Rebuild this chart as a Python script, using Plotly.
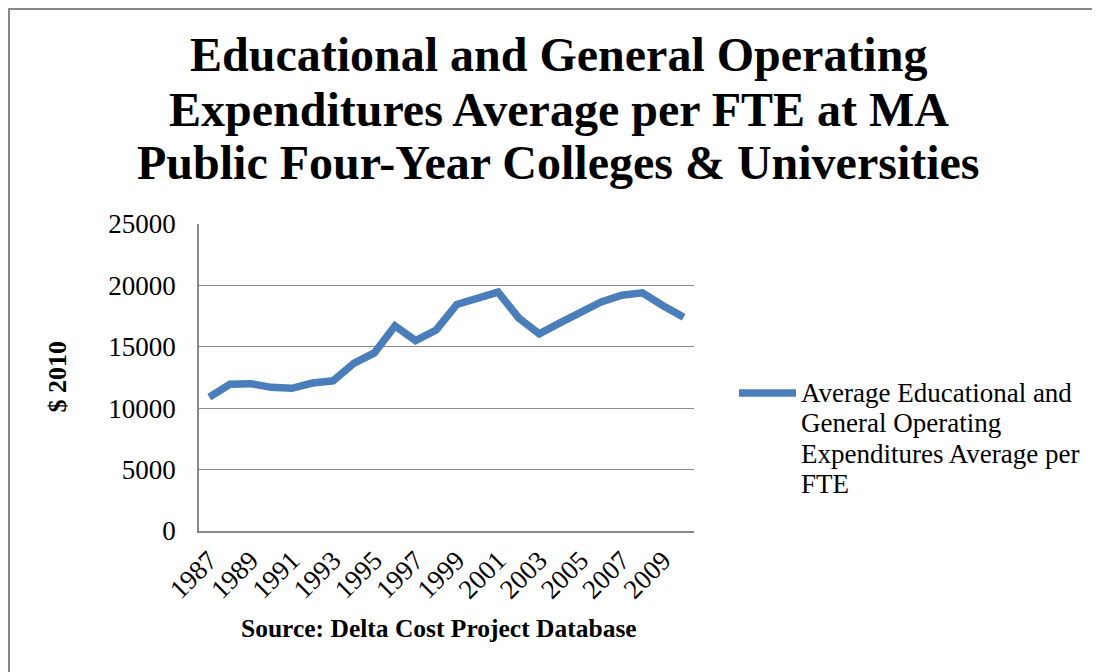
import plotly.graph_objects as go

years = [str(y) for y in range(1987, 2011)]
values = [10900, 11950, 12000, 11700, 11620, 12050, 12230, 13650, 14500, 16700,
          15500, 16370, 18450, 18950, 19450, 17350, 16050, 16950, 17850, 18650,
          19200, 19400, 18350, 17400]
tick_years = [str(y) for y in range(1987, 2010, 2)]
y_ticks = [0, 5000, 10000, 15000, 20000, 25000]

series_name = "Average Educational and General Operating Expenditures Average per FTE"
title_lines = ["Educational and General Operating",
               "Expenditures Average per FTE at MA",
               "Public Four-Year Colleges &amp; Universities"]
legend_lines = ["Average Educational and", "General Operating",
                "Expenditures Average per", "FTE"]
BLUE = "#4A7EBB"
SERIF = "Liberation Serif, Times New Roman, serif"

# page is offset by the 8px body margin; work in page (reference) coordinates
OFF = 8
W, H = 1100 - OFF, 672 - OFF
L, R, T, B = 199, 694, 224, 531


def px(x):
    return (x - L) / (R - L)


def py(y):
    return (B - y) / (B - T)


fig = go.Figure()
fig.add_trace(go.Scatter(
    x=years, y=values, mode="lines", name=series_name,
    line=dict(color=BLUE, width=7.5), showlegend=False,
))

fig.update_layout(
    width=W, height=H,
    margin=dict(l=L - OFF, r=1100 - R, t=T - OFF, b=672 - B, pad=0),
    paper_bgcolor="white", plot_bgcolor="white",
    font=dict(family=SERIF, color="black"),
    xaxis=dict(type="category", range=[-0.5, len(years) - 0.5],
               tickmode="array", tickvals=tick_years, ticktext=tick_years,
               tickangle=-45, tickfont=dict(size=27, family=SERIF),
               ticklabelstandoff=1,
               showgrid=False, showline=True, linecolor="#888", linewidth=1.5,
               ticks="", zeroline=False),
    yaxis=dict(range=[0, 25000], tickmode="array", tickvals=y_ticks,
               ticktext=[str(v) for v in y_ticks],
               tickfont=dict(size=27, family=SERIF), ticklabelstandoff=16,
               showgrid=True, gridcolor="#8c8c8c", gridwidth=1.2,
               showline=True, linecolor="#888", linewidth=1.5,
               zeroline=False, ticks=""),
)

annotations = []
for txt, yc in zip(title_lines, [54, 109, 163]):
    annotations.append(dict(
        text="<b>" + txt + "</b>", xref="paper", yref="paper",
        x=px(558.5), y=py(yc), xanchor="center", yanchor="middle",
        showarrow=False, font=dict(size=48, family=SERIF, color="black")))
for txt, yc in zip(legend_lines, [392.5, 422.5, 454, 484]):
    annotations.append(dict(
        text=txt, xref="paper", yref="paper", x=px(799), y=py(yc),
        xanchor="left", yanchor="middle", align="left", showarrow=False,
        font=dict(size=27, family=SERIF, color="black")))
annotations += [
    dict(text="<b>Source: Delta Cost Project Database</b>", xref="paper", yref="paper",
         x=px(438.5), y=py(628), xanchor="center", yanchor="middle",
         showarrow=False, font=dict(size=25.5, family=SERIF, color="black")),
    dict(text="<b>$ 2010</b>", xref="paper", yref="paper", textangle=-90,
         x=px(57), y=py(376.5), xanchor="center", yanchor="middle",
         showarrow=False, font=dict(size=26, family=SERIF, color="black")),
]
fig.update_layout(annotations=annotations)

fig.update_layout(shapes=[
    dict(type="line", xref="paper", yref="paper", x0=px(739), x1=px(796),
         y0=py(393), y1=py(393), line=dict(color=BLUE, width=7.5)),
    dict(type="rect", xref="paper", yref="paper", x0=px(OFF + 1), x1=px(1120),
         y0=py(700), y1=py(OFF + 1), line=dict(color="#888", width=2)),
])

fig.write_html("out.html")
